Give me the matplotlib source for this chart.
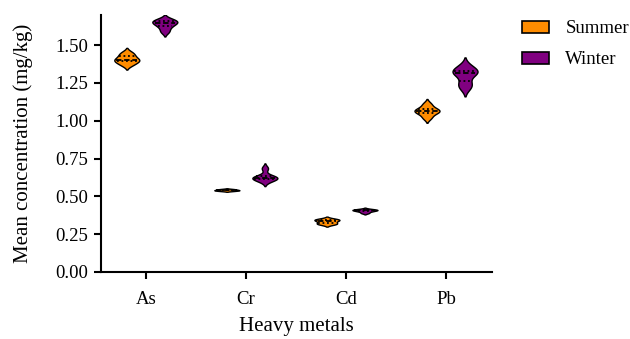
import numpy as np
import matplotlib
matplotlib.use("Agg")
import matplotlib.pyplot as plt
from matplotlib.patches import Patch

plt.rcParams['font.family'] = ['Liberation Serif', 'DejaVu Serif']

metals = ["As", "Cr", "Cd", "Pb"]
seasons = ["Summer", "Winter"]
colors = ["#FF8C00", "#800080"]

summer_as = [1.37, 1.39, 1.40, 1.41, 1.43, 1.45]
winter_as = [1.59, 1.62, 1.64, 1.65, 1.66, 1.67]
summer_cr = [0.535, 0.538, 0.540, 0.542, 0.545, 0.548]
winter_cr = [0.600, 0.615, 0.620, 0.625, 0.635, 0.685]
summer_cd = [0.315, 0.320, 0.330, 0.340, 0.345, 0.350]
winter_cd = [0.390, 0.400, 0.405, 0.410, 0.410, 0.415]
summer_pb = [1.02, 1.05, 1.06, 1.07, 1.08, 1.11]
winter_pb = [1.22, 1.25, 1.31, 1.32, 1.33, 1.36]

data = {
    "Summer": [summer_as, summer_cr, summer_cd, summer_pb],
    "Winter": [winter_as, winter_cr, winter_cd, winter_pb],
}

fig = plt.figure(figsize=(6.3, 3.39), dpi=100)
ax = fig.add_axes([0.160, 0.198, 0.621, 0.758])

offsets = [-0.19, 0.19]
half_w = 0.125

def kde(vals, grid, bw):
    vals = np.asarray(vals)
    d = (grid[:, None] - vals[None, :]) / bw
    return np.exp(-0.5 * d ** 2).sum(axis=1)

for si, s in enumerate(seasons):
    for mi, vals in enumerate(data[s]):
        v = np.asarray(vals)
        sd = v.std(ddof=1)
        bw = 0.8 * sd * len(v) ** (-0.2)
        grid = np.linspace(v.min() - 2.0 * bw, v.max() + 2.0 * bw, 300)
        dens = kde(v, grid, bw)
        dens = dens / dens.max() * half_w
        xc = mi + offsets[si]
        ax.fill_betweenx(grid, xc - dens, xc + dens, facecolor=colors[si],
                         edgecolor="black", linewidth=1.0, zorder=3)
        q1, med, q3 = np.percentile(v, [25, 50, 75])
        for q, ls in [(q1, (0, (1, 1.5))), (med, (0, (3, 1.5))), (q3, (0, (1, 1.5)))]:
            w = np.interp(q, grid, dens) * 0.85
            ax.plot([xc - w, xc + w], [q, q], color="black", lw=1.3, ls=ls, zorder=4)

ax.set_xlim(-0.45, 3.46)
ax.set_ylim(0, 1.70)
ax.set_xticks(range(len(metals)))
ax.set_xticklabels(metals)
ax.set_yticks([0, 0.25, 0.5, 0.75, 1.0, 1.25, 1.5])
ax.set_yticklabels(["0.00", "0.25", "0.50", "0.75", "1.00", "1.25", "1.50"])
for sp in ["top", "right"]:
    ax.spines[sp].set_visible(False)
for sp in ["left", "bottom"]:
    ax.spines[sp].set_linewidth(1.5)
ax.tick_params(axis="both", direction="out", length=5, width=1.5, labelsize=13.5)
ax.tick_params(axis="x", pad=9)
ax.tick_params(axis="y", pad=4)
ax.set_xlabel("Heavy metals", fontsize=15, labelpad=6)
ax.set_ylabel("Mean concentration (mg/kg)", fontsize=15, labelpad=16)

handles = [Patch(facecolor=c, edgecolor="black", linewidth=1.2, label=s) for c, s in zip(colors, seasons)]
fig.legend(handles=handles, loc="upper left", bbox_to_anchor=(0.829, 0.94), frameon=False,
           fontsize=13.5, handlelength=1.4, handleheight=0.6, labelspacing=0.75,
           handletextpad=0.9, borderaxespad=0, borderpad=0)

fig.savefig("out.png", dpi=100)
